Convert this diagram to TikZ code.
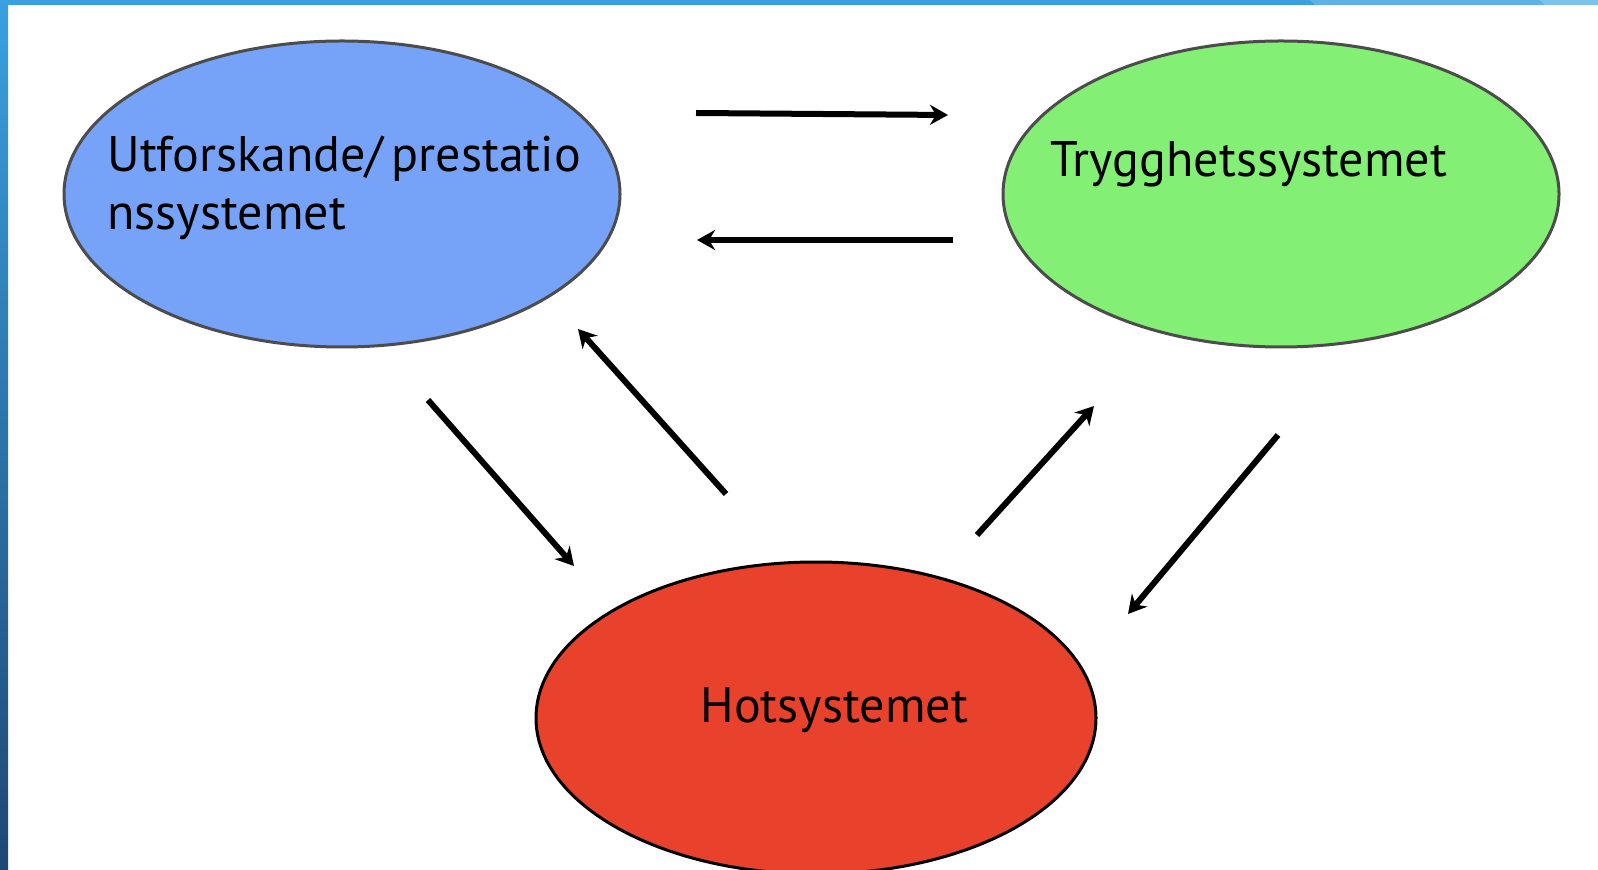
\documentclass[tikz,border=0pt]{standalone}
\usepackage{fontspec}
\setmainfont{PT Sans}
\usetikzlibrary{arrows.meta,positioning,shapes.geometric}

\definecolor{utfblue}{RGB}{118,163,247}
\definecolor{tryggreen}{RGB}{131,239,117}
\definecolor{hotred}{RGB}{232,66,45}
\definecolor{barlight}{RGB}{58,160,224}
\definecolor{barmid}{RGB}{94,178,230}
\definecolor{barpale}{RGB}{124,194,236}
\definecolor{bardark}{RGB}{30,72,116}

\begin{document}
\begin{tikzpicture}
  [
   x=0.5pt, y=-0.5pt,
   node distance=190pt,
   en/.style={ellipse,line width=1.5pt,inner sep=0pt,minimum width=278pt,minimum height=153pt},
   bn/.style={en,draw=black!70,fill=utfblue},
   gn/.style={en,draw=black!70,fill=tryggreen},
   rn/.style={en,draw=black,fill=hotred,minimum width=280pt,minimum height=156pt},
   lbl/.style={anchor=base west,inner sep=0pt,align=left,font=\fontsize{25}{29}\selectfont},
   arr/.style={-{Stealth[length=9pt,width=10pt]},line width=3pt}
  ]
   \useasboundingbox (0,0) rectangle (1598,870);
   \fill[white] (0,0) rectangle (1598,870);

   % frame
   \shade[top color=barlight,bottom color=bardark] (0,0) rectangle (8,870);
   \fill[barlight] (0,0) -- (1310,0) -- (1316,5) -- (0,5) -- cycle;
   \fill[barmid] (1310,0) -- (1540,0) -- (1546,5) -- (1316,5) -- cycle;
   \fill[barpale] (1540,0) -- (1598,0) -- (1598,5) -- (1546,5) -- cycle;

   % systems
   \node[bn] (utf) at (342,194) {};
   \node[gn] (trygg) [right=of utf] {};
   \node[rn] (hot) at (816,718) {};

   \node[lbl] (utftxt) at (107,230) {Utforskande/\,prestatio\\nssystemet};
   \node[lbl] (tryggtxt) at (1050,177) {Trygghetssystemet};
   \node[lbl] (hottxt) at (700,722) {Hotsystemet};

   % arrow ends
   \coordinate (s1) at (696,113);  \coordinate (e1) at (948,115);
   \coordinate (s2) at (953,240);  \coordinate (e2) at (697,240);
   \coordinate (s3) at (428,400);  \coordinate (e3) at (574,566);
   \coordinate (s4) at (726,494);  \coordinate (e4) at (578,329);
   \coordinate (s5) at (977,535);  \coordinate (e5) at (1094,406);
   \coordinate (s6) at (1278,435); \coordinate (e6) at (1128,614);

   \draw[arr] (s1) -- (e1);
   \draw[arr] (s2) -- (e2);
   \draw[arr] (s3) -- (e3);
   \draw[arr] (s4) -- (e4);
   \draw[arr] (s5) -- (e5);
   \draw[arr] (s6) -- (e6);

\end{tikzpicture}
\end{document}
